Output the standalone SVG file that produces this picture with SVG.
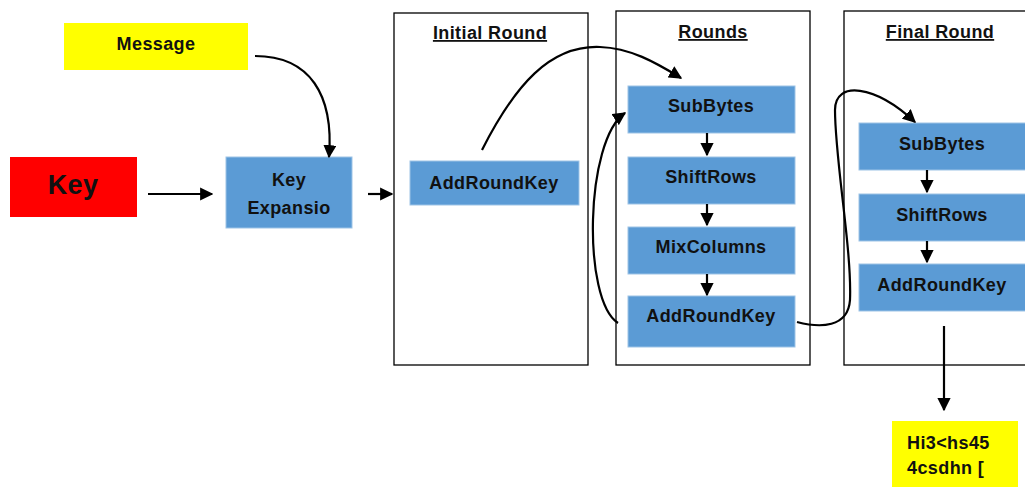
<svg xmlns="http://www.w3.org/2000/svg" width="1025" height="487" viewBox="0 0 1025 487">
<defs>
<marker id="ah" viewBox="0 0 10 10" refX="9" refY="5" markerWidth="6" markerHeight="6" orient="auto" markerUnits="strokeWidth">
<path d="M0,0 L10,5 L0,10 z" fill="#000"/>
</marker>
<style>
.frame{fill:#fff;stroke:#000;stroke-width:1.3}
.blue{fill:#5B9BD5;stroke:#9dc3e6;stroke-width:1}
.yel{fill:#FFFF00}
.red{fill:#FF0000}
text{font-family:"Liberation Sans",Arial,sans-serif;font-weight:bold;fill:#111;font-size:18px;letter-spacing:0.4px;text-anchor:middle}
.title{text-decoration:underline}
.con{fill:none;stroke:#000;stroke-width:2.2;marker-end:url(#ah)}
</style>
</defs>
<rect width="1025" height="487" fill="#fff"/>
<g id="initial-round"><rect class="frame" x="394" y="13" width="194" height="352"/><text class="title" x="490" y="39">Initial Round</text></g>
<g id="rounds"><rect class="frame" x="616" y="11" width="194" height="354"/><text class="title" x="713" y="38">Rounds</text></g>
<g id="final-round"><rect class="frame" x="844" y="11" width="190" height="354"/><text class="title" x="940" y="38">Final Round</text></g>
<g id="message"><rect class="yel" x="64" y="23" width="184" height="47"/><text x="156" y="50">Message</text></g>
<g id="key"><rect class="red" x="10" y="157" width="127" height="60"/><text x="73" y="194" style="font-size:27px">Key</text></g>
<g id="key-expansion"><rect class="blue" x="226" y="157" width="126" height="71"/><text x="289" y="186">Key</text><text x="289" y="214">Expansio</text></g>
<g id="init-addroundkey"><rect class="blue" x="410" y="161" width="169" height="44"/><text x="494" y="189">AddRoundKey</text></g>
<g id="subbytes"><rect class="blue" x="628" y="86" width="167" height="47"/><text x="711" y="112">SubBytes</text></g>
<g id="shiftrows"><rect class="blue" x="628" y="157" width="167" height="47"/><text x="711" y="183">ShiftRows</text></g>
<g id="mixcolumns"><rect class="blue" x="628" y="227" width="167" height="47"/><text x="711" y="253">MixColumns</text></g>
<g id="addroundkey"><rect class="blue" x="628" y="296" width="167" height="51"/><text x="711" y="322">AddRoundKey</text></g>
<g id="final-subbytes"><rect class="blue" x="859" y="123" width="170" height="47"/><text x="942" y="150">SubBytes</text></g>
<g id="final-shiftrows"><rect class="blue" x="859" y="194" width="170" height="47"/><text x="942" y="221">ShiftRows</text></g>
<g id="final-addroundkey"><rect class="blue" x="859" y="264" width="170" height="47"/><text x="942" y="291">AddRoundKey</text></g>
<g id="output"><rect class="yel" x="892" y="421" width="126" height="66"/><text x="907" y="449" style="text-anchor:start">Hi3&lt;hs45</text><text x="907" y="474" style="text-anchor:start">4csdhn [</text></g>
<g id="connectors">
<path class="con" d="M148,194 H212"/>
<path class="con" d="M368,194 H392"/>
<path class="con" d="M255,56 C310,56 334,95 329,157"/>
<path class="con" d="M482,150 C515,85 550,45 600,47 C630,48 655,62 681,78"/>
<path class="con" d="M618,323 C582,300 585,140 625,113"/>
<path class="con" d="M797,322 C820,328 848,328 850,300 C852,250 835,160 835,110 C835,80 875,85 915,122"/>
<path class="con" d="M707,133 V155"/>
<path class="con" d="M707,204 V225"/>
<path class="con" d="M707,274 V295"/>
<path class="con" d="M927,170 V192"/>
<path class="con" d="M927,241 V262"/>
<path class="con" d="M944,326 V410"/>
</g>
</svg>
